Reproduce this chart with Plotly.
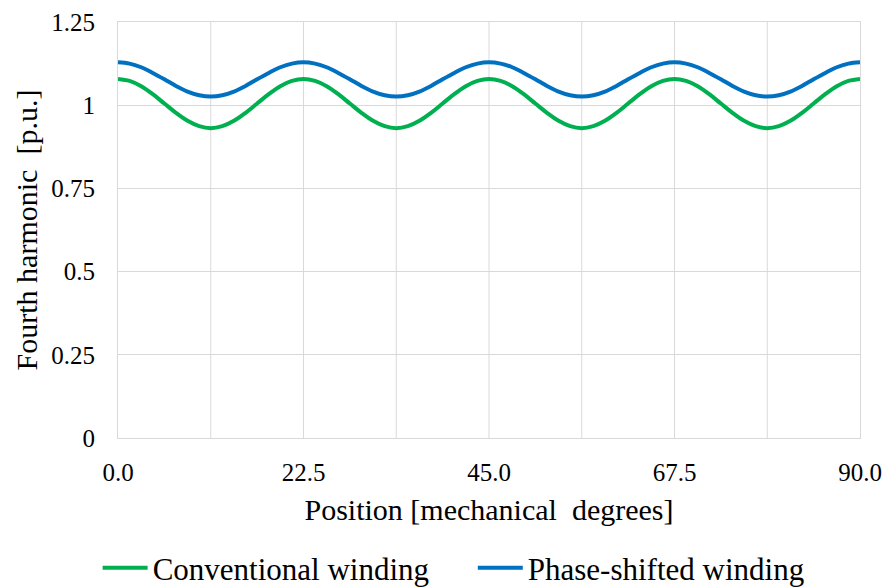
import plotly.graph_objects as go

positions = [i * 1.40625 for i in range(65)]
conventional = [
    1.079, 1.073, 1.057, 1.033, 1.005, 0.977, 0.953, 0.937,
    0.931, 0.937, 0.953, 0.977, 1.005, 1.033, 1.057, 1.073,
    1.079, 1.073, 1.057, 1.033, 1.005, 0.977, 0.953, 0.937,
    0.931, 0.937, 0.953, 0.977, 1.005, 1.033, 1.057, 1.073,
    1.079, 1.073, 1.057, 1.033, 1.005, 0.977, 0.953, 0.937,
    0.931, 0.937, 0.953, 0.977, 1.005, 1.033, 1.057, 1.073,
    1.079, 1.073, 1.057, 1.033, 1.005, 0.977, 0.953, 0.937,
    0.931, 0.937, 0.953, 0.977, 1.005, 1.033, 1.057, 1.073,
    1.079]
phase_shifted = [
    1.129, 1.125, 1.114, 1.097, 1.078, 1.058, 1.041, 1.030,
    1.026, 1.030, 1.041, 1.058, 1.078, 1.097, 1.114, 1.125,
    1.129, 1.125, 1.114, 1.097, 1.078, 1.058, 1.041, 1.030,
    1.026, 1.030, 1.041, 1.058, 1.078, 1.097, 1.114, 1.125,
    1.129, 1.125, 1.114, 1.097, 1.078, 1.058, 1.041, 1.030,
    1.026, 1.030, 1.041, 1.058, 1.078, 1.097, 1.114, 1.125,
    1.129, 1.125, 1.114, 1.097, 1.078, 1.058, 1.041, 1.030,
    1.026, 1.030, 1.041, 1.058, 1.078, 1.097, 1.114, 1.125,
    1.129]
x_ticks = [0, 22.5, 45, 67.5, 90]
x_ticklabels = ["0.0", "22.5", "45.0", "67.5", "90.0"]
x_grid = [11.25, 22.5, 33.75, 45, 56.25, 67.5, 78.75]
y_ticks = [0, 0.25, 0.5, 0.75, 1, 1.25]
y_ticklabels = ["0", "0.25", "0.5", "0.75", "1", "1.25"]
series_names = ["Conventional winding", "Phase-shifted winding"]

font = "Liberation Serif"
gap = "\u00a0" * 5  # spacing between legend entries

fig = go.Figure()
fig.add_trace(go.Scatter(x=positions, y=conventional, mode="lines",
                         name=series_names[0] + gap,
                         line=dict(color="#00B050", width=4, shape="spline")))
fig.add_trace(go.Scatter(x=positions, y=phase_shifted, mode="lines",
                         name=series_names[1],
                         line=dict(color="#0070C0", width=4, shape="spline")))

fig.update_layout(
    width=886, height=587,
    margin=dict(l=118, r=26, t=22, b=149),
    paper_bgcolor="white", plot_bgcolor="white",
    font=dict(family=font, size=25, color="#000000"),
    showlegend=True,
    legend=dict(orientation="h", x=0.512, xanchor="center", xref="container",
                y=0.032, yanchor="middle", yref="container",
                font=dict(size=31, family=font), itemwidth=45, tracegroupgap=0),
    xaxis=dict(range=[0, 90], tickvals=x_ticks, ticktext=x_ticklabels,
               showgrid=False, zeroline=False, showline=True, linecolor="#d9d9d9",
               linewidth=1, mirror=True, ticks="", automargin=False,
               ticklabelstandoff=12,
               tickfont=dict(size=25, family=font),
               title=dict(text="Position [mechanical  degrees]", font=dict(size=30, family=font),
                          standoff=13)),
    yaxis=dict(range=[0, 1.25], tickvals=y_ticks, ticktext=y_ticklabels,
               showgrid=True, gridcolor="#d9d9d9", gridwidth=1, zeroline=False,
               showline=True, linecolor="#d9d9d9", linewidth=1, mirror=True,
               ticks="", automargin=False, ticklabelstandoff=17,
               tickfont=dict(size=25, family=font),
               title=dict(text="Fourth harmonic  [p.u.]", font=dict(size=30, family=font),
                          standoff=4)),
)

for gx in x_grid:
    fig.add_vline(x=gx, line=dict(color="#d9d9d9", width=1), layer="below")

fig.write_html("out.html")
